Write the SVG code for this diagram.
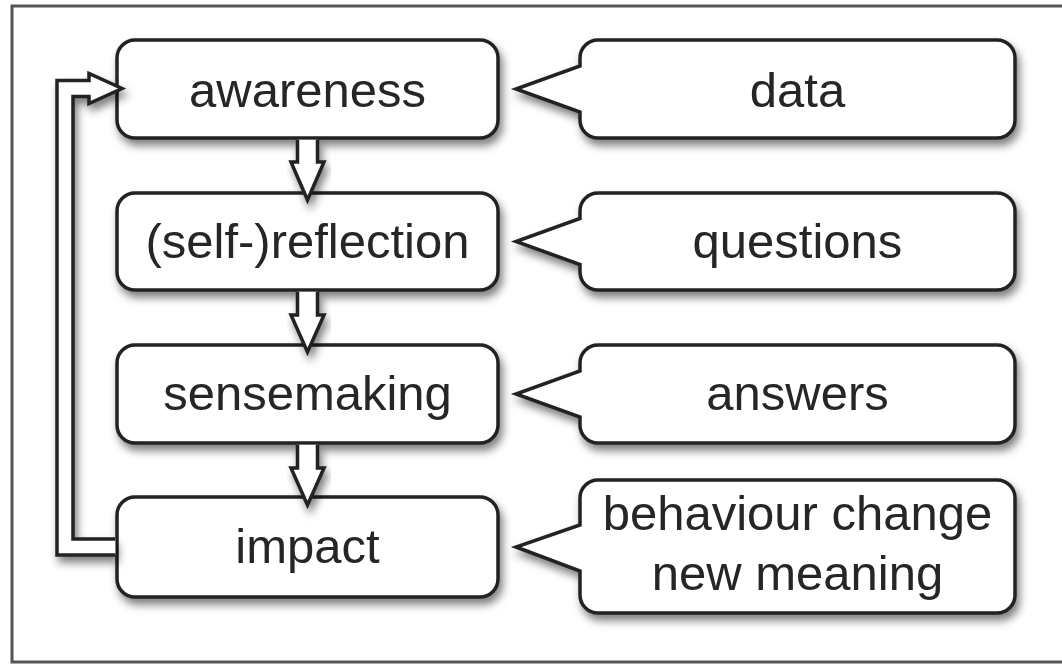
<svg xmlns="http://www.w3.org/2000/svg" width="1062" height="665" viewBox="0 0 1062 665">
<defs>
<filter id="sh" x="-10%" y="-10%" width="130%" height="140%">
<feDropShadow dx="3" dy="6" stdDeviation="4" flood-color="#000" flood-opacity="0.5"/>
</filter>
<style>
.box{fill:#fff;stroke:#222;stroke-width:3.5;filter:url(#sh)}
.lbl{font-family:"Liberation Sans",Arial,Helvetica,sans-serif;font-size:49px;fill:#262626;text-anchor:middle}
.arr{fill:#fff;stroke:#222;stroke-width:3.5;stroke-linejoin:miter;filter:url(#sh)}
</style>
</defs>
<rect x="0" y="0" width="1062" height="665" fill="#fff"/>
<rect x="12" y="6" width="1080" height="656" fill="none" stroke="#555" stroke-width="3"/>

<g id="awareness">
<rect class="box" x="117" y="40" width="381" height="98" rx="18"/>
<text class="lbl" x="307.5" y="107">awareness</text>
</g>
<g id="reflection">
<rect class="box" x="117" y="193" width="381" height="97" rx="18"/>
<text class="lbl" x="307.5" y="258">(self-)reflection</text>
</g>
<g id="sensemaking">
<rect class="box" x="117" y="345" width="381" height="98" rx="18"/>
<text class="lbl" x="307.5" y="410">sensemaking</text>
</g>
<g id="impact">
<rect class="box" x="117" y="497" width="381" height="100" rx="18"/>
<text class="lbl" x="307.5" y="563">impact</text>
</g>

<g id="data">
<path class="box" d="M598,40 H997 A18,18 0 0 1 1015,58 V120 A18,18 0 0 1 997,138 H598 A18,18 0 0 1 580,120 V112 L516,89 L580,66 V58 A18,18 0 0 1 598,40 Z"/>
<text class="lbl" x="797.5" y="107">data</text>
</g>
<g id="questions">
<path class="box" d="M598,193 H997 A18,18 0 0 1 1015,211 V272 A18,18 0 0 1 997,290 H598 A18,18 0 0 1 580,272 V264.5 L516,241.5 L580,218.5 V211 A18,18 0 0 1 598,193 Z"/>
<text class="lbl" x="797.5" y="258">questions</text>
</g>
<g id="answers">
<path class="box" d="M598,345 H997 A18,18 0 0 1 1015,363 V425 A18,18 0 0 1 997,443 H598 A18,18 0 0 1 580,425 V417 L516,394 L580,371 V363 A18,18 0 0 1 598,345 Z"/>
<text class="lbl" x="797.5" y="410">answers</text>
</g>
<g id="behaviour">
<path class="box" d="M598,480 H997 A18,18 0 0 1 1015,498 V595 A18,18 0 0 1 997,613 H598 A18,18 0 0 1 580,595 V571 L516,547 L580,525 V498 A18,18 0 0 1 598,480 Z"/>
<text class="lbl" x="797.5" y="530">behaviour change</text>
<text class="lbl" x="797.5" y="590">new meaning</text>
</g>

<g id="connectors">
<path class="arr" d="M297.5,139.8 V162 H291 L307.5,200 L324,162 H317.5 V139.8"/>
<path class="arr" d="M297.5,291.8 V315 H291 L307.5,352 L324,315 H317.5 V291.8"/>
<path class="arr" d="M297.5,444.8 V468 H291 L307.5,505 L324,468 H317.5 V444.8"/>
<path class="arr" d="M115.2,539 H73 V96.5 H89 V103.5 L122,88.5 L89,73.5 V80.5 H57 V555 H115.2"/>
</g>
</svg>
